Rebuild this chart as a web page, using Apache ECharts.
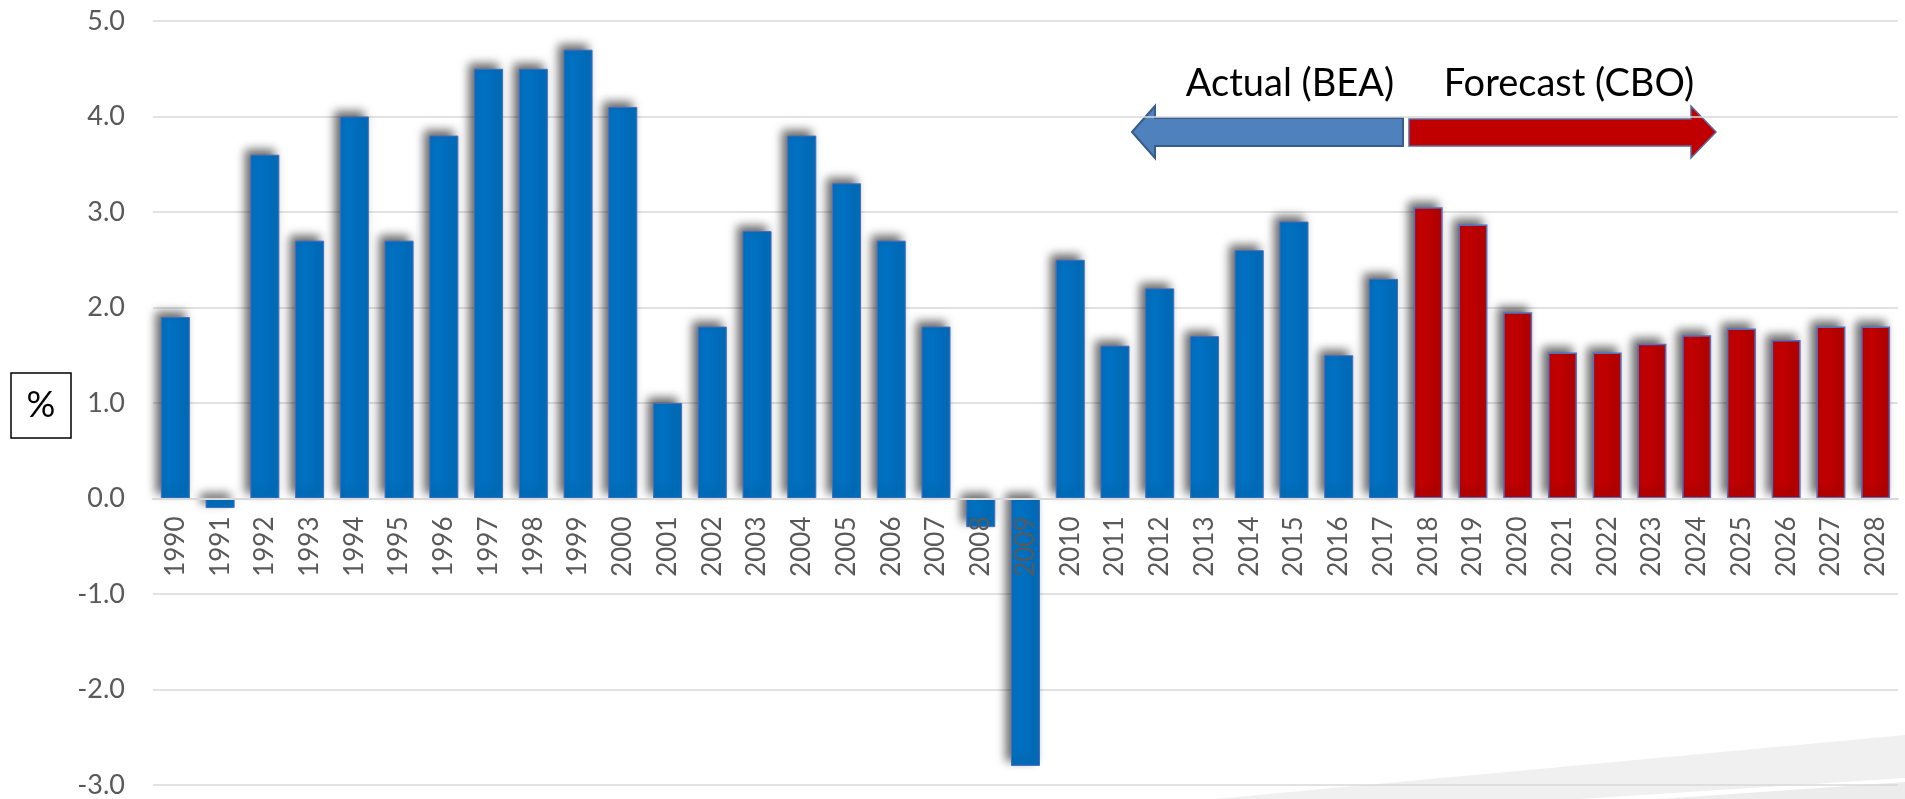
<!DOCTYPE html>
<html>
<head>
<meta charset="utf-8">
<script src="https://cdn.jsdelivr.net/npm/echarts@6/dist/echarts.min.js"></script>
<style>
  html, body { margin: 0; padding: 0; background: #fff; }
  #chart { width: 1905px; height: 799px; }
</style>
</head>
<body>
<div id="chart"></div>
<script>
// years on the x axis
const years = [
  '1990', '1991', '1992', '1993', '1994', '1995', '1996', '1997', '1998', '1999',
  '2000', '2001', '2002', '2003', '2004', '2005', '2006', '2007', '2008', '2009',
  '2010', '2011', '2012', '2013', '2014', '2015', '2016', '2017', '2018', '2019',
  '2020', '2021', '2022', '2023', '2024', '2025', '2026', '2027', '2028'
];

// real GDP growth, % (BEA actuals 1990-2017)
const actualValues = [
  1.9, -0.1, 3.6, 2.7, 4.0, 2.7, 3.8, 4.5, 4.5, 4.7,
  4.1, 1.0, 1.8, 2.8, 3.8, 3.3, 2.7, 1.8, -0.3, -2.8,
  2.5, 1.6, 2.2, 1.7, 2.6, 2.9, 1.5, 2.3
];

// CBO forecast 2018-2028
const forecastValues = [3.05, 2.87, 1.95, 1.53, 1.53, 1.62, 1.71, 1.78, 1.66, 1.80, 1.80];

// y axis ticks
const yMin = -3;
const yMax = 5;
const yStep = 1;

const fontFamily = 'Lato, "Open Sans", sans-serif';

// plot area
const gridTop = 21;
const gridBottom = 14;
const plotHeight = 799 - gridTop - gridBottom;
// move the category axis up to the zero line (labels sit under it, like Excel)
const zeroOffset = -plotHeight * (0 - yMin) / (yMax - yMin);

// pad each series so both share the same category axis
const actualData = years.map((y, i) => (i < actualValues.length ? actualValues[i] : null));
const forecastData = years.map((y, i) => {
  const j = i - actualValues.length;
  return j >= 0 ? forecastValues[j] : null;
});

const barShadow = {
  shadowColor: 'rgba(0, 0, 0, 0.6)',
  shadowBlur: 10,
  shadowOffsetX: -5,
  shadowOffsetY: -5
};

const myChart = echarts.init(document.getElementById('chart'));

const option = {
  animation: false,
  backgroundColor: '#ffffff',
  textStyle: { fontFamily: fontFamily },
  grid: {
    left: 153, right: 7, top: gridTop, bottom: gridBottom,
    containLabel: false, outerBoundsMode: 'none'
  },
  xAxis: {
    type: 'category',
    data: years,
    position: 'bottom',
    offset: zeroOffset,
    z: 5, // labels drawn over the bars (see 2009)
    axisLine: { onZero: false, lineStyle: { color: '#d9d9d9', width: 2 } },
    axisTick: { show: false },
    axisLabel: {
      rotate: 90,
      interval: 0,
      margin: 18,
      fontSize: 26,
      color: '#595959',
      fontFamily: fontFamily
    },
    splitLine: { show: false }
  },
  yAxis: {
    type: 'value',
    min: yMin,
    max: yMax,
    interval: yStep,
    axisLine: { show: false },
    axisTick: { show: false },
    axisLabel: {
      margin: 28,
      fontSize: 27,
      color: '#595959',
      fontFamily: fontFamily,
      formatter: v => v.toFixed(1)
    },
    splitLine: { lineStyle: { color: '#d9d9d9', width: 1.5 } }
  },
  series: [
    {
      name: 'Actual (BEA)',
      type: 'bar',
      data: actualData,
      barWidth: 29,
      barGap: '-100%',
      itemStyle: Object.assign({ color: '#0070C0', borderColor: '#4a6cbd', borderWidth: 1 }, barShadow)
    },
    {
      name: 'Forecast (CBO)',
      type: 'bar',
      data: forecastData,
      barWidth: 29,
      barGap: '-100%',
      itemStyle: Object.assign({ color: '#C00000', borderColor: '#5470c0', borderWidth: 1.5 }, barShadow)
    }
  ],
  graphic: [
    // slide decoration, bottom right
    {
      type: 'polygon',
      z: -10,
      silent: true,
      shape: { points: [[1215, 799], [1905, 735], [1905, 778], [1580, 799]] },
      style: { fill: '#f0f0f0' }
    },
    {
      type: 'polygon',
      z: -10,
      silent: true,
      shape: { points: [[1660, 799], [1905, 782], [1905, 799]] },
      style: { fill: '#ececec' }
    },
    // "%" unit box
    {
      type: 'rect',
      shape: { x: 11, y: 373, width: 60, height: 65 },
      style: { fill: '#ffffff', stroke: '#000000', lineWidth: 1.5 }
    },
    {
      type: 'text',
      x: 41,
      y: 405,
      style: {
        text: '%', fontSize: 36, fill: '#000000', fontFamily: fontFamily,
        align: 'center', verticalAlign: 'middle'
      }
    },
    // arrows
    {
      type: 'polygon',
      shape: {
        points: [[1132, 132], [1155, 106], [1155, 118], [1403, 118],
                 [1403, 146], [1155, 146], [1155, 158]]
      },
      style: { fill: '#4F81BD', stroke: '#385D8A', lineWidth: 2 }
    },
    {
      type: 'polygon',
      shape: {
        points: [[1409, 119], [1691, 119], [1691, 106], [1716, 132],
                 [1691, 158], [1691, 146], [1409, 146]]
      },
      style: { fill: '#C00000', stroke: '#5a6aa0', lineWidth: 1.5 }
    },
    {
      type: 'text',
      x: 1290,
      y: 84,
      style: {
        text: 'Actual (BEA)', fontSize: 38, fill: '#000000', fontFamily: fontFamily,
        align: 'center', verticalAlign: 'middle'
      }
    },
    {
      type: 'text',
      x: 1569,
      y: 84,
      style: {
        text: 'Forecast (CBO)', fontSize: 38, fill: '#000000', fontFamily: fontFamily,
        align: 'center', verticalAlign: 'middle'
      }
    }
  ]
};

myChart.setOption(option);
</script>
</body>
</html>
